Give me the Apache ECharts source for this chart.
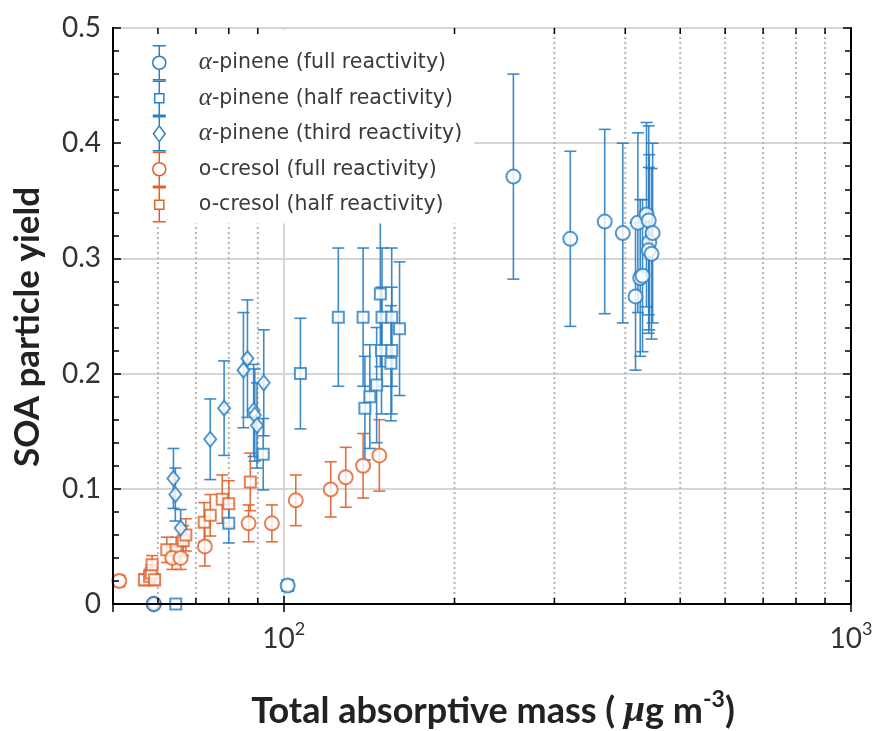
<!DOCTYPE html>
<html>
<head>
<meta charset="utf-8">
<script src="https://cdn.jsdelivr.net/npm/echarts@6/dist/echarts.min.js"></script>
<style>
  html, body { margin: 0; padding: 0; background: #fff; }
  #main { width: 877px; height: 731px; }
</style>
</head>
<body>
<div id="main"></div>
<script>
var BLUE = '#2a7ec3';
var ORANGE = '#e0602a';

// alpha-pinene (full reactivity)
var apFullX = [59, 101.6, 254, 320, 368, 396, 417, 421, 425, 429, 436, 440, 441, 440, 445, 447];
var apFullY = [0, 0.016, 0.371, 0.317, 0.332, 0.322, 0.267, 0.331, 0.283, 0.285, 0.338, 0.333, 0.314, 0.307, 0.304, 0.322];
var apFullE = [0, 0, 0.089, 0.076, 0.080, 0.078, 0.064, 0.078, 0.068, 0.066, 0.080, 0.082, 0.076, 0.072, 0.074, 0.078];

// alpha-pinene (half reactivity)
var apHalfX = [64.5, 80, 92, 101.6, 107, 124.8, 138, 139, 141.8, 145.8, 148, 148.7, 149, 154.5, 155, 155, 160];
var apHalfY = [0, 0.07, 0.13, 0.016, 0.200, 0.249, 0.249, 0.170, 0.180, 0.190, 0.269, 0.220, 0.249, 0.209, 0.249, 0.220, 0.239];
var apHalfE = [0, 0.017, 0.031, 0, 0.048, 0.060, 0.060, 0.045, 0.045, 0.050, 0.063, 0.055, 0.060, 0.050, 0.060, 0.055, 0.058];

// alpha-pinene (third reactivity)
var apThirdX = [59, 63.9, 64.4, 65.8, 74.2, 78.5, 84.9, 86.3, 88.5, 88.9, 89.7, 92.2];
var apThirdY = [0, 0.109, 0.095, 0.066, 0.143, 0.170, 0.203, 0.213, 0.168, 0.164, 0.155, 0.192];
var apThirdE = [0, 0.026, 0.023, 0.016, 0.035, 0.041, 0.050, 0.051, 0.040, 0.040, 0.037, 0.046];

// o-cresol (full reactivity)
var ocFullX = [51.3, 59, 63.6, 65.8, 72.6, 86.7, 95.3, 105, 121, 128.6, 138, 147.4];
var ocFullY = [0.02, 0, 0.040, 0.040, 0.050, 0.070, 0.070, 0.090, 0.0995, 0.110, 0.120, 0.129];
var ocFullE = [0, 0, 0.010, 0.010, 0.017, 0.016, 0.016, 0.022, 0.024, 0.026, 0.028, 0.031];

// o-cresol (half reactivity)
var ocHalfX = [51.2, 56.8, 58, 58.4, 59.2, 58.6, 62.2, 64.6, 66.5, 67.2, 72.4, 74.2, 77.9, 80, 87.3];
var ocHalfY = [0.02, 0.021, 0.024, 0.027, 0.021, 0.034, 0.047, 0.047, 0.055, 0.060, 0.071, 0.077, 0.091, 0.087, 0.106];
var ocHalfE = [0, 0.005, 0.006, 0.007, 0.005, 0.008, 0.011, 0.011, 0.013, 0.014, 0.017, 0.018, 0.021, 0.020, 0.025];

var xMinor = [60, 70, 80, 90, 200, 300, 400, 500, 600, 700, 800, 900];

var names = ['α-pinene (full reactivity)', 'α-pinene (half reactivity)', 'α-pinene (third reactivity)',
             'o-cresol (full reactivity)', 'o-cresol (half reactivity)'];

function pts(xs, ys) {
  var out = [];
  for (var i = 0; i < xs.length; i++) out.push([xs[i], ys[i]]);
  return out;
}
function bars(xs, ys, es) {
  var out = [];
  for (var i = 0; i < xs.length; i++) out.push([xs[i], ys[i] - es[i], ys[i] + es[i]]);
  return out;
}

function errRender(color) {
  return function (params, api) {
    var x = api.value(0), lo = api.value(1), hi = api.value(2);
    if (hi - lo <= 0) return;
    var a = api.coord([x, hi]), b = api.coord([x, lo]);
    var w = 6;
    var st = { stroke: color, lineWidth: 1.6, opacity: 0.9 };
    return {
      type: 'group', children: [
        { type: 'line', shape: { x1: a[0], y1: a[1], x2: b[0], y2: b[1] }, style: st },
        { type: 'line', shape: { x1: a[0] - w, y1: a[1], x2: a[0] + w, y2: a[1] }, style: st },
        { type: 'line', shape: { x1: b[0] - w, y1: b[1], x2: b[0] + w, y2: b[1] }, style: st }
      ]
    };
  };
}

// dotted grid at minor log positions
function minorGrid(params, api) {
  var v = api.value(0);
  var b = api.coord([v, 0]), t = api.coord([v, 0.5]);
  return { type: 'line', shape: { x1: b[0], y1: b[1], x2: t[0], y2: t[1] },
    style: { stroke: '#b5b5b5', lineWidth: 2, lineDash: [2, 3] } };
}
// minor tick marks on bottom and top
function minorTicks(params, api) {
  var v = api.value(0);
  var b = api.coord([v, 0]), t = api.coord([v, 0.5]);
  return {
    type: 'group', children: [
      { type: 'line', shape: { x1: b[0], y1: b[1], x2: b[0], y2: b[1] - 6 },
        style: { stroke: '#000', lineWidth: 1.5 } },
      { type: 'line', shape: { x1: t[0], y1: t[1], x2: t[0], y2: t[1] + 6 },
        style: { stroke: '#000', lineWidth: 1.5 } }
    ]
  };
}

var iconCircle = 'path://M1 0L11 0M6 0L6 8M6 18L6 26M1 26L11 26M6 8A5 5 0 1 1 6 18A5 5 0 1 1 6 8Z';
var iconSquare = 'path://M1 0L11 0M6 0L6 9.5M6 16.5L6 26M1 26L11 26M2.5 9.5L9.5 9.5L9.5 16.5L2.5 16.5Z';
var iconDiamond = 'path://M1 0L11 0M6 0L6 7M6 19L6 26M1 26L11 26M6 7L10.5 13L6 19L1.5 13Z';

function legendItem(name, icon, color) {
  return { name: name, icon: icon, itemStyle: { color: '#fff', borderColor: color, borderWidth: 1.5 } };
}

var dom = document.getElementById('main');
var myChart = echarts.init(dom);
var option = {
  animation: false,
  backgroundColor: '#fff',
  grid: { left: 113, top: 28, width: 738, height: 576, outerBoundsMode: 'none', containLabel: false },
  legend: {
    orient: 'vertical',
    left: 115,
    top: 30,
    padding: [15, 12, 1, 37],
    backgroundColor: '#fff',
    itemWidth: 15,
    itemHeight: 34,
    itemGap: 0,
    selectedMode: false,
    data: [
      legendItem(names[0], iconCircle, BLUE),
      legendItem(names[1], iconSquare, BLUE),
      legendItem(names[2], iconDiamond, BLUE),
      legendItem(names[3], iconCircle, ORANGE),
      legendItem(names[4], iconSquare, ORANGE)
    ],
    formatter: function (n) {
      if (n.charAt(0) === 'α') return '{g|}{a|α}' + n.slice(1);
      return '{g|}' + n;
    },
    textStyle: {
      fontFamily: 'DejaVu Sans', fontSize: 20.5, color: '#3a3a3a',
      rich: {
        g: { width: 27 },
        a: { fontFamily: 'Liberation Serif', fontStyle: 'italic', fontSize: 25, color: '#3a3a3a' }
      }
    }
  },
  xAxis: [{
    type: 'log', logBase: 10, min: 50, max: 1000, position: 'bottom',
    name: 'Total absorptive mass ( {m|μ}g m{s|-3})',
    nameLocation: 'middle', nameGap: 84,
    nameTextStyle: {
      fontFamily: 'Lato', fontWeight: 'bold', fontSize: 36, color: '#222', padding: [0, 0, 0, 22],
      rich: {
        m: { fontFamily: 'Liberation Serif', fontStyle: 'italic', fontSize: 38, color: '#222' },
        s: { fontFamily: 'Lato', fontWeight: 'bold', fontSize: 23, color: '#222', padding: [0, 0, 23, 0] }
      }
    },
    axisLine: { lineStyle: { color: '#000', width: 2 } },
    axisTick: { inside: true, length: 8, lineStyle: { color: '#000', width: 1.5 } },
    axisLabel: {
      margin: 16,
      formatter: function (v) {
        if (Math.abs(v - 100) < 1) return '{b|10}{s|2}';
        if (Math.abs(v - 1000) < 1) return '{b|10}{s|3}';
        return '';
      },
      rich: {
        b: { fontFamily: 'Lato', fontSize: 28, color: '#333' },
        s: { fontFamily: 'Lato', fontSize: 18, color: '#333', padding: [0, 0, 20, 0] }
      }
    },
    splitLine: { show: true, lineStyle: { color: '#d6d6d6', width: 2 } }
  }, {
    type: 'log', logBase: 10, min: 50, max: 1000, position: 'top', z: 10,
    axisLine: { lineStyle: { color: '#000', width: 2 } },
    axisTick: { inside: true, length: 8, lineStyle: { color: '#000', width: 1.5 } },
    axisLabel: { show: false },
    splitLine: { show: false }
  }],
  yAxis: [{
    type: 'value', min: 0, max: 0.5, interval: 0.1, position: 'left',
    name: 'SOA particle yield', nameLocation: 'middle', nameGap: 68,
    nameTextStyle: { fontFamily: 'Lato', fontWeight: 'bold', fontSize: 35, color: '#222', padding: [0, 22, 0, 0] },
    axisLine: { show: true, lineStyle: { color: '#000', width: 2 } },
    axisTick: { show: false },
    axisLabel: {
      margin: 12, fontFamily: 'Lato', fontSize: 28, color: '#333',
      formatter: function (v) { return v === 0 ? '0' : v.toFixed(1); }
    },
    splitLine: { show: true, lineStyle: { color: '#d6d6d6', width: 2 } }
  }, {
    type: 'value', min: 0, max: 0.5, interval: 0.1, position: 'right',
    axisLine: { show: true, lineStyle: { color: '#000', width: 2 } },
    axisTick: { inside: true, length: 8, lineStyle: { color: '#000', width: 1.5 } },
    minorTick: { show: true, splitNumber: 5, length: 6, lineStyle: { color: '#000', width: 1.5 } },
    axisLabel: { show: false },
    splitLine: { show: false }
  }, {
    type: 'value', min: 0, max: 0.5, interval: 0.1, position: 'left', z: 10,
    axisLine: { show: true, lineStyle: { color: '#000', width: 2 } },
    axisTick: { inside: true, length: 8, lineStyle: { color: '#000', width: 1.5 } },
    minorTick: { show: true, splitNumber: 5, length: 6, lineStyle: { color: '#000', width: 1.5 } },
    axisLabel: { show: false },
    splitLine: { show: false }
  }],
  series: [
    { type: 'custom', name: 'minorGrid', silent: true, z: 1, renderItem: minorGrid,
      data: xMinor.map(function (v) { return [v]; }), encode: { x: 0 } },
    { type: 'custom', name: 'minorTicks', silent: true, z: 10, renderItem: minorTicks,
      data: xMinor.map(function (v) { return [v]; }), encode: { x: 0 } },

    { type: 'custom', name: names[4], z: 2, renderItem: errRender(ORANGE), data: bars(ocHalfX, ocHalfY, ocHalfE), encode: { x: 0, y: [1, 2] } },
    { type: 'custom', name: names[3], z: 2, renderItem: errRender(ORANGE), data: bars(ocFullX, ocFullY, ocFullE), encode: { x: 0, y: [1, 2] } },
    { type: 'custom', name: names[0], z: 2, renderItem: errRender(BLUE), data: bars(apFullX, apFullY, apFullE), encode: { x: 0, y: [1, 2] } },
    { type: 'custom', name: names[1], z: 2, renderItem: errRender(BLUE), data: bars(apHalfX, apHalfY, apHalfE), encode: { x: 0, y: [1, 2] } },
    { type: 'custom', name: names[2], z: 2, renderItem: errRender(BLUE), data: bars(apThirdX, apThirdY, apThirdE), encode: { x: 0, y: [1, 2] } },

    { type: 'scatter', name: names[4], z: 3, symbol: 'emptyRect', symbolSize: 11, clip: false,
      itemStyle: { color: ORANGE, borderWidth: 1.6 }, data: pts(ocHalfX, ocHalfY) },
    { type: 'scatter', name: names[3], z: 3, symbol: 'emptyCircle', symbolSize: 14, clip: false,
      itemStyle: { color: ORANGE, borderWidth: 1.6 }, data: pts(ocFullX, ocFullY) },
    { type: 'scatter', name: names[2], z: 3, symbol: 'emptyDiamond', symbolSize: [12, 15], clip: false,
      itemStyle: { color: BLUE, borderWidth: 1.6 }, data: pts(apThirdX, apThirdY) },
    { type: 'scatter', name: names[1], z: 3, symbol: 'emptyRect', symbolSize: 11, clip: false,
      itemStyle: { color: BLUE, borderWidth: 1.6 }, data: pts(apHalfX, apHalfY) },
    { type: 'scatter', name: names[0], z: 3, symbol: 'emptyCircle', symbolSize: 14, clip: false,
      itemStyle: { color: BLUE, borderWidth: 1.6 }, data: pts(apFullX, apFullY) }
  ]
};
if (option && typeof option === 'object') {
  myChart.setOption(option, true);
}
</script>
</body>
</html>
